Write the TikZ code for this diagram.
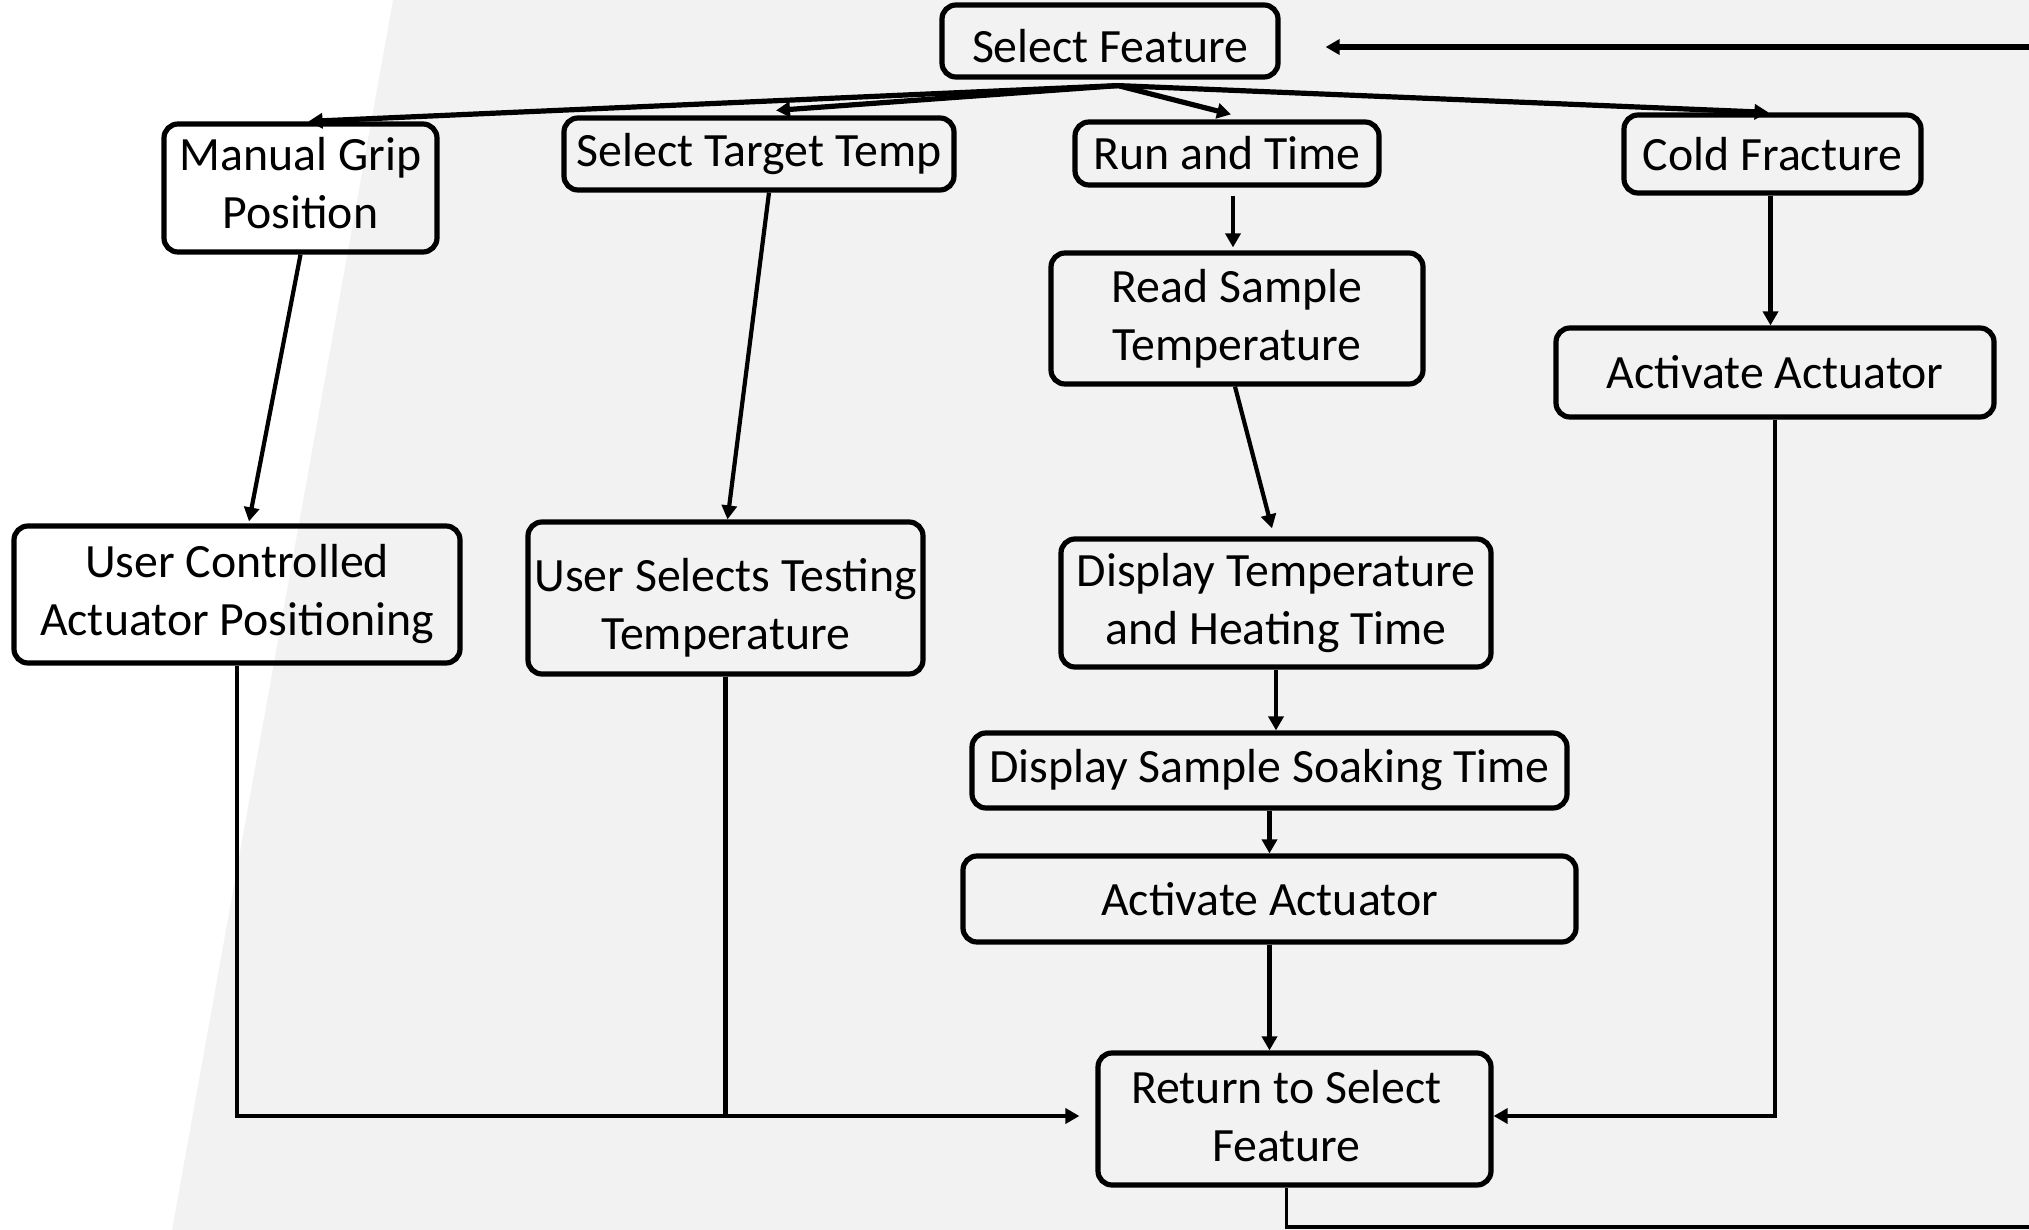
\documentclass[tikz,border=0pt]{standalone}
\usepackage{fontspec}
\setmainfont{Carlito}
\usetikzlibrary{arrows.meta,calc}
\definecolor{bg}{HTML}{F2F2F2}
\newcommand{\shiftedtext}[2]{\raisebox{#1}[\height][\depth]{\begin{tabular}{@{}c@{}}#2\end{tabular}}}
\begin{document}
\begin{tikzpicture}[x=0.5pt,y=-0.5pt,
  box/.style={draw=black, line width=2.6pt, rounded corners=7pt, inner sep=0pt, align=center,
    font=\fontsize{23.9}{29}\selectfont},
  conn/.style={line width=2.1pt, -{Triangle[length=7pt,width=7.5pt]}},
  fanconn/.style={line width=2.6pt, -{Triangle[length=7pt,width=7.5pt]}},
  plain/.style={line width=2.1pt}]
\useasboundingbox (0,0) rectangle (2029,1230);
\fill[bg] (0,0) rectangle (2029,1230);
\fill[white] (0,0) -- (393,0) -- (172,1230) -- (0,1230) -- cycle;

\node[box, minimum width=168pt, minimum height=36pt] (SF) at (1110,41) {\shiftedtext{-5.2pt}{Select Feature}};
\node[box, minimum width=136.5pt, minimum height=64pt] (MG) at (300.5,188) {\shiftedtext{0pt}{Manual Grip\\Position}};
\node[box, minimum width=195pt, minimum height=36pt] (ST) at (759,154) {Select Target Temp};
\node[box, minimum width=152pt, minimum height=31.5pt] (RT) at (1227,153.5) {Run and Time};
\node[box, minimum width=148.5pt, minimum height=39pt] (CF) at (1772.5,154) {Cold Fracture};
\node[box, minimum width=186pt, minimum height=65.5pt] (RS) at (1237,318.5) {Read Sample\\Temperature};
\node[box, minimum width=219pt, minimum height=44.5pt] (AA2) at (1775,372.5) {Activate Actuator};
\node[box, minimum width=223pt, minimum height=68.5pt] (UC) at (237,594.5) {User Controlled\\Actuator Positioning};
\node[box, minimum width=197.5pt, minimum height=76pt] (US) at (725.5,598) {\shiftedtext{-5.2pt}{User Selects Testing\\Temperature}};
\node[box, minimum width=215pt, minimum height=64pt] (DT) at (1276,603) {Display Temperature\\and Heating Time};
\node[box, minimum width=297.5pt, minimum height=37.5pt] (DS) at (1269.5,770.5) {Display Sample Soaking Time};
\node[box, minimum width=306.5pt, minimum height=43pt] (AA1) at (1269.5,899) {Activate Actuator};
\node[box, minimum width=196.5pt, minimum height=66pt] (RF) at (1294.5,1119) {\shiftedtext{-1pt}{Return to Select\hspace*{8pt}\\Feature\hspace*{8pt}}};

\coordinate (fan) at ([xshift=4pt,yshift=-3pt]SF.south);
\coordinate (join) at ([yshift=1.5pt]RF.west);
\coordinate (exitB) at (2035,1227);
\coordinate (exitT) at (2035,47);

\draw[fanconn] (fan) -- ([xshift=4pt]MG.north);
\draw[fanconn] (fan) -- ([xshift=8.5pt,yshift=2.5pt]ST.north);
\draw[fanconn] (fan) -- ([xshift=2pt,yshift=2.5pt]RT.north);
\draw[fanconn] (fan) -- ([xshift=-2pt]CF.north);
\draw[fanconn] (exitT) -- ([xshift=22.5pt,yshift=-3pt]SF.east);

\draw[conn] ([xshift=3pt,yshift=-4pt]RT.south) -- ([xshift=-2pt,yshift=1.5pt]RS.north);
\draw[conn] ([xshift=-1pt]RS.south) -- ([xshift=-2pt,yshift=4pt]DT.north);
\draw[conn] (DT.south) -- (DT.south |- DS.north);
\draw[conn] (DS.south) -- (AA1.north);
\draw[conn] (AA1.south) -- (AA1.south |- RF.north);
\draw[conn] (MG.south) -- ([xshift=6pt,yshift=1pt]UC.north);
\draw[conn] ([xshift=5pt]ST.south) -- ([xshift=1pt]US.north);
\draw[conn] ([xshift=-1pt]CF.south) -- ([xshift=-1pt]CF.south |- AA2.north);

\draw[conn] (UC.south) |- ([xshift=-8pt]join);
\draw[plain] (US.south) -- (US.south |- join);
\draw[conn] (AA2.south) |- ([yshift=1.5pt]RF.east);
\draw[line width=1.8pt] ([xshift=-4pt]RF.south) |- (exitB);
\end{tikzpicture}
\end{document}
